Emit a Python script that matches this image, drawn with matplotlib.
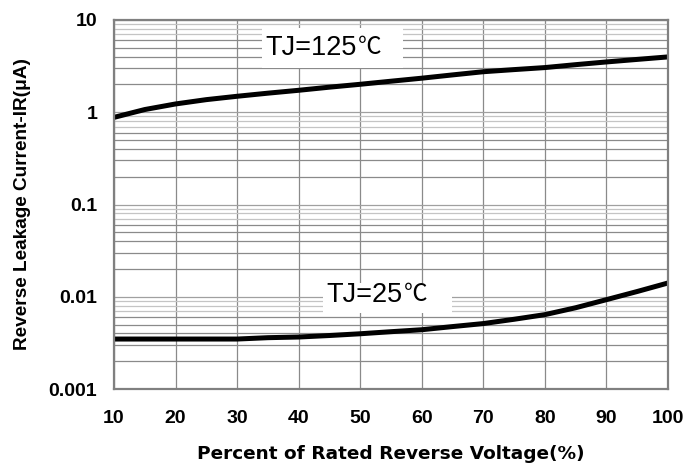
import numpy as np
import matplotlib
matplotlib.use("Agg")
import matplotlib.pyplot as plt
from matplotlib.patches import Rectangle

# Data
voltage_pct = [10, 15, 20, 25, 30, 35, 40, 45, 50, 55, 60, 65, 70, 75, 80, 85, 90, 95, 100]
ir_125 = [0.88, 1.07, 1.23, 1.37, 1.49, 1.61, 1.73, 1.87, 2.01, 2.17, 2.34, 2.54, 2.75, 2.90, 3.05, 3.28, 3.51, 3.74, 3.98]
ir_25 = [0.00348, 0.00348, 0.00348, 0.00348, 0.00348, 0.00360, 0.00366, 0.00380, 0.00397, 0.00418,
         0.00439, 0.00475, 0.00512, 0.00570, 0.00640, 0.00760, 0.00930, 0.01140, 0.01410]
x_ticks = [10, 20, 30, 40, 50, 60, 70, 80, 90, 100]
y_ticks = [0.001, 0.01, 0.1, 1, 10]
y_ticklabels = ["0.001", "0.01", "0.1", "1", "10"]
label_125 = "TJ=125"
label_25 = "TJ=25"
unit = "℃"
xlabel = "Percent of Rated Reverse Voltage(%)"
ylabel = "Reverse Leakage Current-IR(μA)"

plt.rcParams["font.family"] = ["Liberation Sans", "DejaVu Sans"]

W, H = 687, 463
L, R, T, B = 114, 668, 20, 389
fig = plt.figure(figsize=(W/100, H/100), dpi=100)
ax = fig.add_axes([L/W, 1-B/H, (R-L)/W, (B-T)/H])
ax.set_yscale("log")
ax.set_xlim(10, 100)
ax.set_ylim(0.001, 10)

def ax_x(px):
    return (px-L)/(R-L)

def ax_y(py):
    return 1-(py-T)/(B-T)

# grid lines
for xv in x_ticks:
    ax.axvline(xv, color="#8a8a8a", lw=0.9, zorder=1)
for dec in [0.001, 0.01, 0.1, 1]:
    for m in range(2, 10):
        c = "#c4c4c4" if m >= 7 else "#8a8a8a"
        ax.axhline(dec*m, color=c, lw=0.9, zorder=1)
for yv in y_ticks:
    ax.axhline(yv, color="#a0a0a0", lw=0.9, zorder=1)

ax.plot(voltage_pct, ir_125, color="black", lw=3.6, solid_capstyle="butt", zorder=5)
ax.plot(voltage_pct, ir_25, color="black", lw=3.6, solid_capstyle="butt", zorder=5)

# label boxes (white, covering grid)
for (x0, x1, y0, y1) in [(262, 403, 28, 68), (323, 452, 283, 313)]:
    ax.add_patch(Rectangle((ax_x(x0), ax_y(y1)), ax_x(x1)-ax_x(x0), ax_y(y0)-ax_y(y1),
                           transform=ax.transAxes, fc="white", ec="none", zorder=2))

for txt, px, py in [(label_125, 265, 48), (label_25, 326, 295)]:
    t = ax.text(ax_x(px), ax_y(py), txt, transform=ax.transAxes, fontsize=19.5,
                family=["Liberation Sans"], va="center", ha="left", zorder=3)
    ax.annotate(unit, xy=(1, 0.5), xycoords=t, xytext=(1, 0), textcoords="offset points",
                fontsize=17, family=["Noto Sans CJK SC", "DejaVu Sans"], fontweight="light",
                va="center", ha="left", zorder=3)

ax.set_xticks(x_ticks)
ax.set_xticklabels([str(v) for v in x_ticks])
ax.set_yticks(y_ticks)
ax.set_yticklabels(y_ticklabels)
ax.yaxis.set_minor_locator(matplotlib.ticker.NullLocator())
ax.tick_params(axis="both", which="both", length=0)
ax.tick_params(axis="x", pad=15)
ax.tick_params(axis="y", pad=12)
for lab in ax.get_xticklabels():
    lab.set_fontweight("bold")
    lab.set_fontsize(14)
for lab in ax.get_yticklabels():
    lab.set_fontweight("bold")
    lab.set_fontsize(14)

for s in ax.spines.values():
    s.set_color("#808080")
    s.set_linewidth(1.6)
    s.set_zorder(6)

ax.set_xlabel(xlabel, fontsize=13.3, fontweight="bold", family=["DejaVu Sans"], labelpad=13)
ax.set_ylabel(ylabel, fontsize=13.7, fontweight="bold", labelpad=13)

fig.savefig("out.png", dpi=100)
